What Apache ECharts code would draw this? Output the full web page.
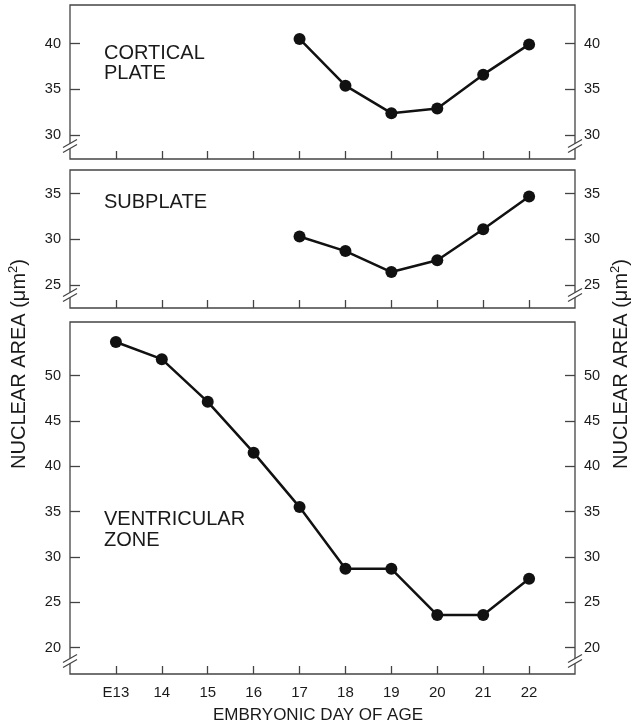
<!DOCTYPE html>
<html>
<head>
<meta charset="utf-8">
<script src="https://cdn.jsdelivr.net/npm/echarts@6/dist/echarts.min.js"></script>
<style>
  html, body { margin: 0; padding: 0; background: #fff; }
  #main { width: 632px; height: 727px; }
</style>
</head>
<body>
<div id="main"></div>
<script>
// data
const days = [13, 14, 15, 16, 17, 18, 19, 20, 21, 22];
const lateDays = [17, 18, 19, 20, 21, 22];
const corticalArea = [40.5, 35.4, 32.4, 32.9, 36.6, 39.9];
const subplateArea = [30.3, 28.7, 26.4, 27.7, 31.1, 34.7];
const ventricularArea = [53.7, 51.8, 47.1, 41.5, 35.5, 28.7, 28.7, 23.6, 23.6, 27.6];
const corticalTicks = [30, 35, 40];
const subplateTicks = [25, 30, 35];
const ventricularTicks = [20, 25, 30, 35, 40, 45, 50];

// layout
const L = 70, R = 575;
const panels = [
    { top: 5, h: 154, min: 27.4, max: 44.2, ticks: corticalTicks, x: lateDays, y: corticalArea },
    { top: 170, h: 138, min: 22.45, max: 37.6, ticks: subplateTicks, x: lateDays, y: subplateArea },
    { top: 322, h: 352, min: 17.1, max: 55.9, ticks: ventricularTicks, x: days, y: ventricularArea }
];
const FONT = 'Liberation Sans';
const INK = '#111';
const FRAME = '#444';
const TEXT = '#1a1a1a';

let chart = echarts.init(document.getElementById('main'));

let grid = [], xAxis = [], yAxis = [], series = [];
panels.forEach((p, i) => {
    grid.push({
        left: L, right: 632 - R, top: p.top, height: p.h,
        show: true, borderColor: FRAME, borderWidth: 1.3, backgroundColor: 'transparent'
    });
    xAxis.push({
        type: 'value', gridIndex: i, min: 12, max: 23,
        axisLine: { show: false },
        splitLine: { show: false },
        axisTick: { show: true, inside: true, length: 8, customValues: days, lineStyle: { color: FRAME, width: 1.3 } },
        axisLabel: {
            show: i === 2, customValues: days, margin: 11,
            fontFamily: FONT, fontSize: 15, color: TEXT,
            formatter: v => v === 13 ? 'E13' : String(v)
        }
    });
    ['left', 'right'].forEach(pos => {
        yAxis.push({
            type: 'value', gridIndex: i, position: pos, min: p.min, max: p.max,
            axisLine: { show: false },
            splitLine: { show: false },
            axisTick: { show: true, inside: true, length: 10, customValues: p.ticks, lineStyle: { color: FRAME, width: 1.3 } },
            axisLabel: { customValues: p.ticks, margin: 9, fontFamily: FONT, fontSize: 14.5, color: TEXT }
        });
    });
    series.push({
        type: 'line', xAxisIndex: i, yAxisIndex: i * 2,
        data: p.x.map((d, k) => [d, p.y[k]]),
        symbol: 'circle', symbolSize: 12,
        itemStyle: { color: INK },
        lineStyle: { color: INK, width: 2.5 },
        z: 5
    });
});

// axis break marks "//" at the lower ends of the side axes
let graphic = [];
panels.forEach(p => {
    let y = p.top + p.h - 13;
    [L, R].forEach(x => {
        graphic.push({
            type: 'polygon', z: 20,
            shape: { points: [[x - 6, y + 1], [x + 6, y - 6], [x + 6, y - 1], [x - 6, y + 6]] },
            style: { fill: '#fff' }
        });
        graphic.push({ type: 'line', z: 21, shape: { x1: x - 7, y1: y + 1.5, x2: x + 7, y2: y - 6.5 }, style: { stroke: FRAME, lineWidth: 1.3 } });
        graphic.push({ type: 'line', z: 21, shape: { x1: x - 7, y1: y + 6.5, x2: x + 7, y2: y - 1.5 }, style: { stroke: FRAME, lineWidth: 1.3 } });
    });
});

// panel captions
const captions = [
    { text: 'CORTICAL\nPLATE', y: 63, lh: 20 },
    { text: 'SUBPLATE', y: 202, lh: 20 },
    { text: 'VENTRICULAR\nZONE', y: 529.5, lh: 21 }
];
captions.forEach(c => {
    graphic.push({
        type: 'text', left: 104, top: c.y - c.lh * c.text.split('\n').length / 2, z: 10,
        style: { text: c.text, fontFamily: FONT, fontSize: 20, lineHeight: c.lh, fill: TEXT }
    });
});

// axis titles
const yName = {
    text: 'NUCLEAR AREA (μm{s|2})', fontFamily: FONT, fontSize: 20, fill: TEXT,
    align: 'center', verticalAlign: 'middle',
    rich: { s: { fontFamily: FONT, fontSize: 13, padding: [0, 0, 12, 0], fill: TEXT } }
};
graphic.push({ type: 'text', x: 19, y: 364, rotation: Math.PI / 2, z: 10, style: Object.assign({}, yName) });
graphic.push({ type: 'text', x: 621, y: 364, rotation: Math.PI / 2, z: 10, style: Object.assign({}, yName) });
graphic.push({
    type: 'text', x: 318, y: 715, z: 10,
    style: { text: 'EMBRYONIC DAY OF AGE', fontFamily: FONT, fontSize: 17, fill: TEXT, align: 'center', verticalAlign: 'middle' }
});

const option = {
    animation: false,
    backgroundColor: '#fff',
    grid: grid,
    xAxis: xAxis,
    yAxis: yAxis,
    series: series,
    graphic: graphic
};
chart.setOption(option);
</script>
</body>
</html>
